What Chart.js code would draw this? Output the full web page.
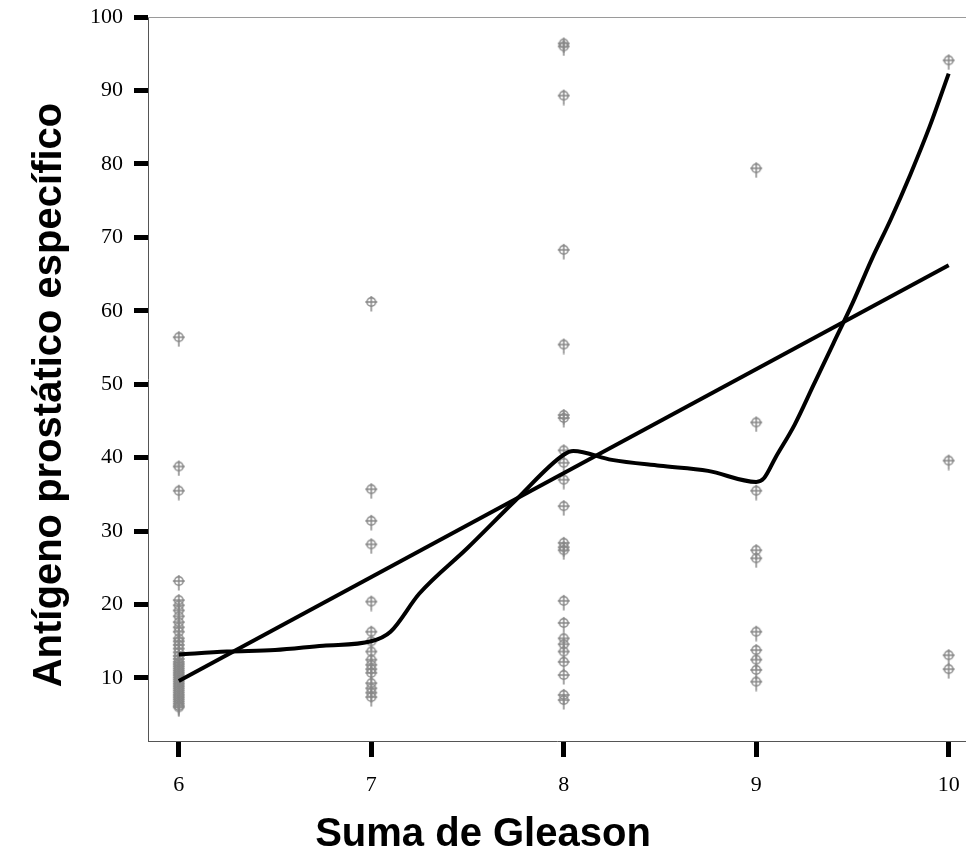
<!DOCTYPE html>
<html>
<head>
<meta charset="utf-8">
<script src="https://cdn.jsdelivr.net/npm/chart.js@4.4.0/dist/chart.umd.min.js"></script>
<style>
  html, body { margin: 0; padding: 0; background: #fff; overflow: hidden; }
  #wrap { width: 966px; height: 855px; }
</style>
</head>
<body>
<div id="wrap"><canvas id="grafico"></canvas></div>
<script>
// Suma de Gleason (valores del eje x)
const gleason = [6, 7, 8, 9, 10];
// PSA de cada paciente segun su suma de Gleason
const psa6 = [56.4, 38.8, 35.5, 23.2, 20.6, 19.9, 19.2, 18.4, 17.6, 16.9, 16.3, 15.4, 15.0, 14.5, 14.0,
  13.5, 13.0, 12.6, 12.2, 11.9, 11.6, 11.3, 11.0, 10.7, 10.4, 10.1, 9.8, 9.5, 9.2, 8.9, 8.6, 8.3,
  8.0, 7.7, 7.4, 7.1, 6.8, 6.5, 6.2, 6.0];
const psa7 = [61.2, 35.7, 31.4, 28.2, 20.4, 16.3, 15.0, 13.6, 12.5, 11.8, 11.2, 10.7, 9.3, 8.6, 8.0, 7.4];
const psa8 = [96.4, 96.0, 89.3, 68.3, 55.4, 45.8, 45.4, 41.0, 39.3, 37.0, 33.4, 28.4, 27.8, 27.4,
  20.5, 17.5, 15.4, 14.6, 13.6, 12.2, 10.4, 7.7, 7.0];
const psa9 = [79.4, 44.8, 35.5, 27.4, 26.3, 16.3, 13.8, 12.5, 11.1, 9.5];
const psa10 = [94.1, 39.6, 13.1, 11.2];

// recta de ajuste lineal
const rectaX = [6, 10];
const rectaY = [9.6, 66.2];
// curva suavizada (loess)
const loessX = [6, 6.25, 6.5, 6.75, 7, 7.1, 7.25, 7.5, 7.75, 8, 8.05, 8.25, 8.5, 8.75, 9, 9.04, 9.1,
  9.2, 9.3, 9.4, 9.5, 9.6, 9.7, 9.8, 9.9, 10];
const loessY = [13.2, 13.6, 13.8, 14.4, 15.0, 16.3, 21.5, 27.7, 34.2, 40.4, 40.9, 39.7, 38.9, 38.2,
  36.7, 37.2, 40.0, 44.5, 50.0, 55.5, 61.0, 67.0, 72.5, 78.5, 85.0, 92.3];

const ticksY = [10, 20, 30, 40, 50, 60, 70, 80, 90, 100];
const tituloY = 'Antígeno prostático específico';
const tituloX = 'Suma de Gleason';

// armar los puntos
const grupos = [psa6, psa7, psa8, psa9, psa10];
const puntos = [];
grupos.forEach((g, i) => {
  g.forEach(v => puntos.push({ x: gleason[i], y: v }));
});
const recta = rectaX.map((x, i) => ({ x: x, y: rectaY[i] }));
const loess = loessX.map((x, i) => ({ x: x, y: loessY[i] }));

// marcador: circulo con cruz y cola hacia abajo
function marcador() {
  const c = document.createElement('canvas');
  c.width = 14; c.height = 20;
  const ctx = c.getContext('2d');
  ctx.strokeStyle = '#888';
  ctx.lineWidth = 1.5;
  ctx.beginPath();
  ctx.arc(7, 10, 4.3, 0, Math.PI * 2);
  ctx.stroke();
  ctx.beginPath();
  ctx.moveTo(1, 10); ctx.lineTo(13, 10);
  ctx.moveTo(7, 4); ctx.lineTo(7, 19.5);
  ctx.stroke();
  return c;
}

// linea superior del marco y titulo vertical
const marco = {
  id: 'marco',
  beforeDatasetsDraw(chart) {
    const { ctx, chartArea: a } = chart;
    ctx.save();
    ctx.strokeStyle = '#9a9a9a';
    ctx.lineWidth = 1;
    ctx.beginPath();
    ctx.moveTo(a.left, a.top + 0.5);
    ctx.lineTo(a.right, a.top + 0.5);
    ctx.stroke();
    // titulo del eje y
    ctx.translate(50, 395);
    ctx.rotate(-Math.PI / 2);
    ctx.fillStyle = '#000';
    ctx.font = 'bold 40px "Liberation Sans"';
    ctx.textAlign = 'center';
    ctx.textBaseline = 'middle';
    ctx.fillText(tituloY, 0, 0);
    ctx.restore();
  }
};

const fuenteTicks = { family: 'Liberation Serif', size: 22 };

new Chart(document.getElementById('grafico'), {
  type: 'scatter',
  data: {
    datasets: [
      {
        label: 'Loess',
        data: loess,
        showLine: true,
        borderColor: '#000',
        borderWidth: 4,
        pointRadius: 0,
        cubicInterpolationMode: 'monotone',
        order: 1
      },
      {
        label: 'Lineal',
        data: recta,
        showLine: true,
        borderColor: '#000',
        borderWidth: 4,
        pointRadius: 0,
        order: 2
      },
      {
        label: 'PSA',
        data: puntos,
        pointStyle: marcador(),
        pointRadius: 5,
        order: 3
      }
    ]
  },
  options: {
    responsive: true,
    maintainAspectRatio: false,
    animation: false,
    layout: { autoPadding: false, padding: { top: 17, right: 0, left: 0, bottom: 0 } },
    plugins: {
      legend: { display: false },
      tooltip: { enabled: false },
      title: {
        display: true,
        position: 'bottom',
        text: tituloX,
        color: '#000',
        font: { family: 'Liberation Sans', size: 40, weight: 'bold', lineHeight: 1 },
        padding: { top: 0, bottom: 0 }
      }
    },
    scales: {
      x: {
        type: 'linear',
        min: 5.84,
        max: 10.09,
        afterBuildTicks: s => { s.ticks = gleason.map(v => ({ value: v })); },
        afterFit: s => { s.height = 74; s.paddingLeft = 0; s.paddingRight = 0; },
        grid: { drawOnChartArea: false, drawTicks: true, tickLength: 16, tickWidth: 5, tickColor: '#000' },
        border: { display: true, color: '#555', width: 1 },
        ticks: { color: '#000', font: fuenteTicks, padding: 15, maxRotation: 0 }
      },
      y: {
        min: 1.42,
        max: 100,
        afterBuildTicks: s => { s.ticks = ticksY.map(v => ({ value: v })); },
        afterFit: s => { s.width = 148; s.paddingTop = 0; s.paddingBottom = 0; },
        grid: { drawOnChartArea: false, drawTicks: true, tickLength: 14, tickWidth: 5, tickColor: '#000' },
        border: { display: true, color: '#555', width: 1 },
        ticks: { color: '#000', font: fuenteTicks, padding: 11 }
      }
    }
  },
  plugins: [marco]
});
</script>
</body>
</html>
